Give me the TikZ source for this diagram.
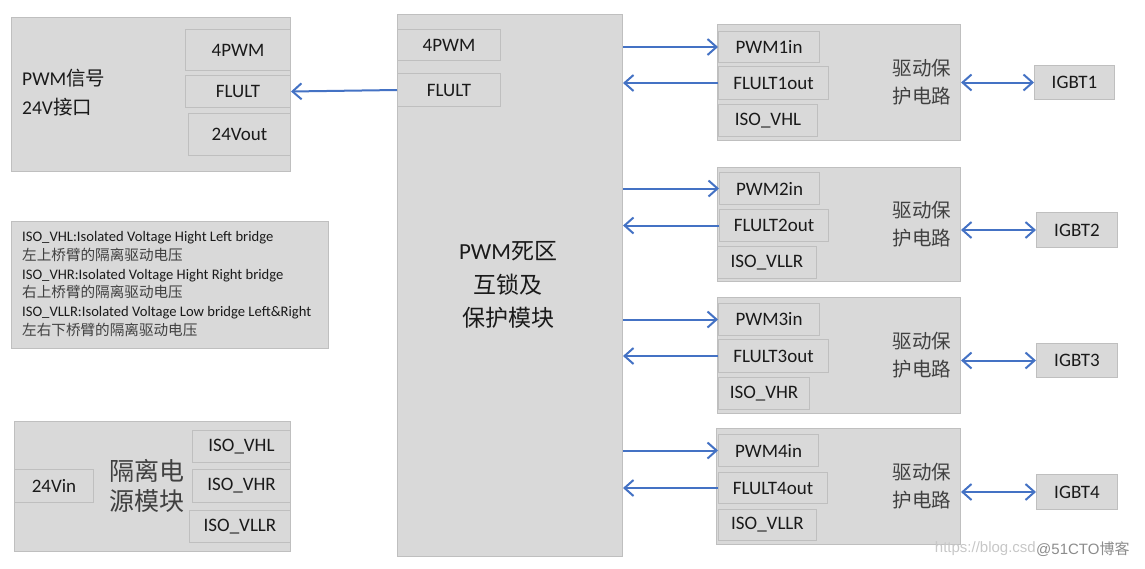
\documentclass[tikz,border=0pt]{standalone}
\usepackage{fontspec}
\setmainfont{Carlito}
\newfontfamily\cjk{Noto Sans CJK SC}
\newfontfamily\wmfont{Liberation Sans}
\usetikzlibrary{arrows.meta}
\definecolor{boxfill}{HTML}{D9D9D9}
\definecolor{boxline}{HTML}{BFBFBF}
\definecolor{arrowblue}{HTML}{4472C4}
\definecolor{txt}{HTML}{1A1A1A}
\definecolor{cjkgray}{HTML}{404040}
\newcommand{\lgc}{\cjk\fontsize{14.6}{18.7}\selectfont\color{cjkgray}}
\begin{document}
\begin{tikzpicture}[x=1pt,y=-1pt,
  >={Straight Barb[length=9pt,width=16pt,line width=2pt]},
  box/.style={draw=boxline, fill=boxfill, line width=1pt, anchor=north west, inner sep=0pt},
  sz/.style 2 args={minimum width=#1pt, minimum height=#2pt},
  sub/.style={box, font=\fontsize{19}{22}\selectfont, text=txt},
  lbl/.style={inner sep=0pt, text=txt},
  arr/.style={draw=arrowblue, line width=2pt, ->},
  darr/.style={draw=arrowblue, line width=2pt, <->}
]
\useasboundingbox (0,0) rectangle (1145,568);

% PWM signal 24V interface
\node[box, sz={279}{154}] (A) at (11,17) {};
\node[sub, sz={105}{41}] (A4pwm) at (185,29) {4PWM};
\node[sub, sz={105}{32}] (Aflult) at (185,75) {FLULT};
\node[sub, sz={102}{42}] (A24vout) at (188,113) {24Vout};
\node[lbl, anchor=west, align=left, font=\fontsize{19.5}{29}\selectfont] (Atext) at (22,93) {PWM{\cjk 信号}\\24V{\cjk 接口}};

% legend
\node[box, sz={317}{127}] (L) at (11,221) {};
\node[lbl, anchor=west, align=left, font=\fontsize{14.6}{18.7}\selectfont] (Ltext) at (22,284) {ISO\_VHL:Isolated Voltage Hight Left bridge\\
{\lgc 左上桥臂的隔离驱动电压}\\
ISO\_VHR:Isolated Voltage Hight Right bridge\\
{\lgc 右上桥臂的隔离驱动电压}\\
ISO\_VLLR:Isolated Voltage Low bridge Left\&Right\\
{\lgc 左右下桥臂的隔离驱动电压}};

% isolated power module
\node[box, sz={276}{130}] (P) at (14,421) {};
\node[sub, sz={79}{33}] (P24vin) at (14,469) {24Vin};
\node[sub, sz={98}{32}] (Pvhl) at (192,430) {ISO\_VHL};
\node[sub, sz={98}{33}] (Pvhr) at (192,469) {ISO\_VHR};
\node[sub, sz={101}{32}] (Pvllr) at (189,510) {ISO\_VLLR};
\node[lbl, align=center, font=\cjk\fontsize{25}{30}\selectfont, text=cjkgray] (Ptext) at (147,486) {隔离电\\源模块};

% central module
\node[box, sz={225}{542}] (C) at (397,14) {};
\node[sub, sz={103}{31}] (C4pwm) at (397,29) {4PWM};
\node[sub, sz={103}{33}] (Cflult) at (397,73) {FLULT};
\node[lbl, align=center, font=\fontsize{23}{33.5}\selectfont] (Ctext) at (508,285) {PWM{\cjk 死区}\\{\cjk 互锁及}\\{\cjk 保护模块}};

% driver boxes
\node[box, sz={243}{116}] (D1) at (717,24) {};
\node[sub, sz={101}{31}] (D1pwm) at (718,31) {PWM1in};
\node[sub, sz={110}{33}] (D1flt) at (718,66) {FLULT1out};
\node[sub, sz={99}{32}] (D1iso) at (718,104) {ISO\_VHL};
\node[box, sz={243}{114}] (D2) at (717,167) {};
\node[sub, sz={100}{32}] (D2pwm) at (719,172) {PWM2in};
\node[sub, sz={109}{32}] (D2flt) at (719,209) {FLULT2out};
\node[sub, sz={99}{32}] (D2iso) at (717,246) {ISO\_VLLR};
\node[box, sz={243}{116}] (D3) at (717,297) {};
\node[sub, sz={101}{32}] (D3pwm) at (718,303) {PWM3in};
\node[sub, sz={110}{33}] (D3flt) at (718,339) {FLULT3out};
\node[sub, sz={91}{32}] (D3iso) at (718,377) {ISO\_VHR};
\node[box, sz={244}{116}] (D4) at (716,428) {};
\node[sub, sz={100}{32}] (D4pwm) at (718,434) {PWM4in};
\node[sub, sz={109}{31}] (D4flt) at (718,472) {FLULT4out};
\node[sub, sz={98}{31}] (D4iso) at (718,509) {ISO\_VLLR};
\foreach \i in {1,2,3,4}{
  \node[lbl, align=center, font=\cjk\fontsize{19.5}{28}\selectfont, text=cjkgray] (D\i text) at ([xshift=-39pt]D\i.east) {驱动保\\护电路};
}

% IGBTs
\node[sub, sz={80}{34}] (G1) at (1034,65) {IGBT1};
\node[sub, sz={81}{35}] (G2) at (1036,212) {IGBT2};
\node[sub, sz={81}{34}] (G3) at (1036,343) {IGBT3};
\node[sub, sz={81}{35}] (G4) at (1036,474) {IGBT4};

% connectors
\draw[arr] (Cflult.west) -- (Aflult.east);
\foreach \i in {1,2,3,4}{
  \draw[arr] (C.east |- D\i pwm.west) -- (D\i pwm.west);
  \draw[arr] (D\i flt.west) -- (C.east |- D\i flt.west);
  \draw[darr] (D\i.east |- G\i.west) -- (G\i.west);
}

% watermark
\node[lbl, anchor=east, text=black!22, font=\wmfont\fontsize{15}{18}\selectfont] (wm1) at (1036,549) {https://blog.csd};
\node[lbl, anchor=west, text=black!45, font=\wmfont\fontsize{15}{18}\selectfont] (wm2) at (1036,549) {@51CTO{\cjk 博客}};
\end{tikzpicture}
\end{document}
